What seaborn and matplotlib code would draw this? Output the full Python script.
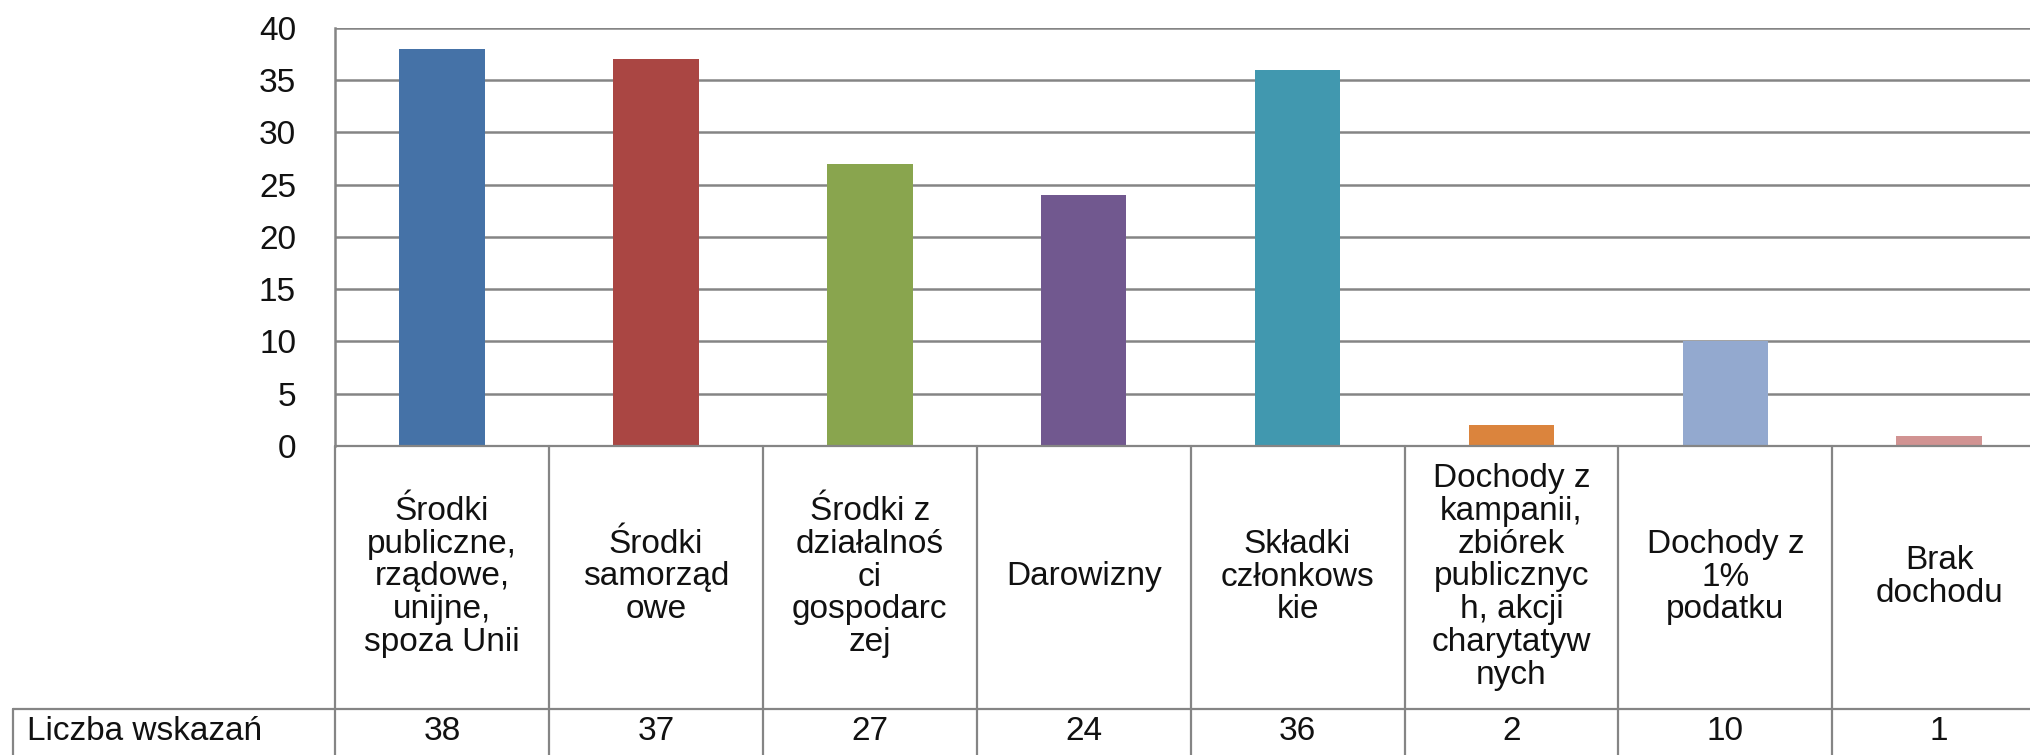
import matplotlib
matplotlib.use("Agg")
import matplotlib.pyplot as plt
import matplotlib.transforms as mtransforms
from matplotlib.lines import Line2D
import seaborn as sns
import pandas as pd

categories = [
    "Środki\npubliczne,\nrządowe,\nunijne,\nspoza Unii",
    "Środki\nsamorząd\nowe",
    "Środki z\ndziałalnoś\nci\ngospodarc\nzej",
    "Darowizny",
    "Składki\nczłonkows\nkie",
    "Dochody z\nkampanii,\nzbiórek\npublicznyc\nh, akcji\ncharytatyw\nnych",
    "Dochody z\n1%\npodatku",
    "Brak\ndochodu",
]
values = [38, 37, 27, 24, 36, 2, 10, 1]
series_name = "Liczba wskazań"
y_ticks = [0, 5, 10, 15, 20, 25, 30, 35, 40]
colors = ["#4572A7", "#AA4643", "#89A54E", "#71588F",
          "#4198AF", "#DB843D", "#93A9CF", "#D19392"]

sns.set_theme(style="white")
plt.rcParams["font.family"] = ["Liberation Sans", "DejaVu Sans"]

W, H = 2030, 755
fig = plt.figure(figsize=(W / 100, H / 100), dpi=100)
fig.patch.set_facecolor("white")

ax_left, ax_top, ax_bottom = 335, 28, 446
col_w = 213.9
n = len(categories)
ax = fig.add_axes([ax_left / W, 1 - ax_bottom / H,
                   n * col_w / W, (ax_bottom - ax_top) / H])

df = pd.DataFrame({"idx": list(range(n)), "val": values})
sns.barplot(data=df, x="idx", y="val", hue="idx", palette=colors,
            width=0.4, legend=False, ax=ax, saturation=1, linewidth=0)

grid_c = "#858585"
fs = 24
ax.set_xlim(-0.5, n - 0.5)
ax.set_ylim(0, 40)
ax.set_yticks(y_ticks)
ax.set_yticklabels([str(t) for t in y_ticks], fontsize=fs, color="#111111")
ax.tick_params(axis="y", length=0, pad=28)
ax.set_xticks([])
ax.set_xlabel("")
ax.set_ylabel("")
ax.yaxis.grid(True, color=grid_c, linewidth=1.8)
ax.set_axisbelow(True)
for s in ["top", "right", "bottom"]:
    ax.spines[s].set_visible(False)
ax.spines["left"].set_color(grid_c)
ax.spines["left"].set_linewidth(1.8)

# data table below the plot
trans = mtransforms.blended_transform_factory(ax.transData, fig.transFigure)
def fy(p):
    return 1 - p / H

line_kw = dict(color=grid_c, linewidth=1.6, clip_on=False)
row_div, bottom = 709, 775
ax.plot([-0.5, n - 0.5], [fy(ax_bottom)] * 2, transform=trans, **line_kw)
fig.add_artist(Line2D([13 / W, 1.02], [fy(row_div)] * 2, **line_kw))
for i in range(n + 1):
    ax.plot([i - 0.5, i - 0.5], [fy(ax_bottom), fy(bottom)], transform=trans, **line_kw)
fig.add_artist(Line2D([13 / W, 13 / W], [fy(row_div), fy(bottom)], **line_kw))

for i, (cat, v) in enumerate(zip(categories, values)):
    ax.text(i, fy(577), cat, transform=trans, ha="center", va="center",
            fontsize=fs, linespacing=1.07, color="#111111", clip_on=False)
    ax.text(i, fy(732), str(v), transform=trans, ha="center", va="center",
            fontsize=fs, color="#111111", clip_on=False)

fig.text(27 / W, fy(732), series_name, ha="left", va="center",
         fontsize=fs, color="#111111")

fig.savefig("out.png", dpi=100, facecolor="white")
